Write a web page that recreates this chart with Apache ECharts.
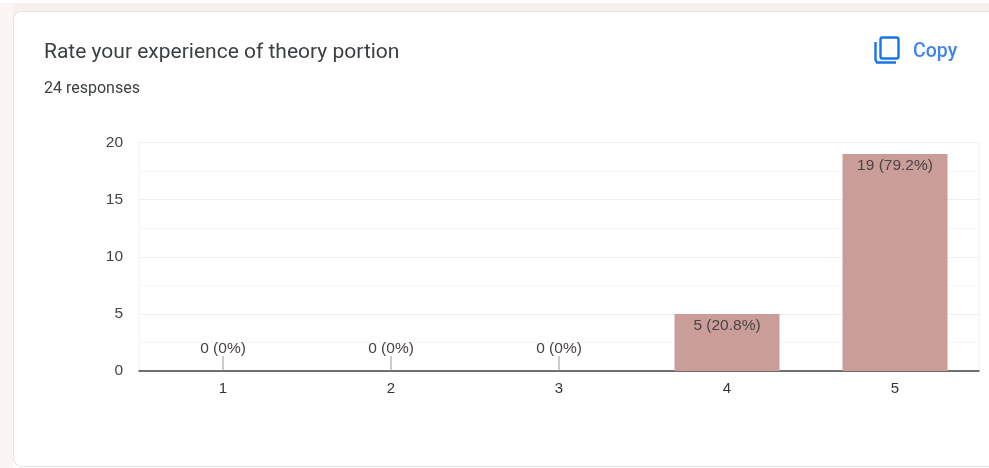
<!DOCTYPE html>
<html>
<head>
<meta charset="utf-8">
<style>
  html, body { margin: 0; padding: 0; background: #fff; }
  #chart { width: 989px; height: 468px; }
</style>
<script src="https://cdn.jsdelivr.net/npm/echarts@6/dist/echarts.min.js"></script>
</head>
<body>
<div id="chart"></div>
<script>
var categories = ['1', '2', '3', '4', '5'];
var counts = [0, 0, 0, 5, 19];
var percents = ['0%', '0%', '0%', '20.8%', '79.2%'];
var titleText = 'Rate your experience of theory portion';
var subtitleText = '24 responses';
var copyText = 'Copy';

var myChart = echarts.init(document.getElementById('chart'));

var option = {
    animation: false,
    backgroundColor: '#fff',
    grid: {show: true, borderColor: '#f0f0f0', borderWidth: 1, left: 139, right: 10, top: 142.5, bottom: 97},
    graphic: [
        // page strip and card
        {type: 'rect', z: -10, shape: {x: 0, y: 3, width: 989, height: 30}, style: {fill: '#f8efee'}},
        {type: 'rect', z: -10, shape: {x: 0, y: 3, width: 13, height: 465}, style: {fill: '#fbf6f5'}},
        {type: 'rect', z: -9, shape: {x: 13.5, y: 11.5, width: 1000, height: 455, r: 8},
            style: {fill: '#fff', stroke: '#e4e4e2', lineWidth: 1}},
        {type: 'text', z: 5, x: 44, y: 53, style: {text: titleText, font: '21px Roboto', fill: '#3c4043', textVerticalAlign: 'middle'}},
        {type: 'text', z: 5, x: 44, y: 89, style: {text: subtitleText, font: '16px Roboto', fill: '#3c4043', textVerticalAlign: 'middle'}},
        // copy icon
        {type: 'rect', z: 5, shape: {x: 880.5, y: 37.5, width: 18, height: 21, r: 2},
            style: {fill: 'none', stroke: '#1a73e8', lineWidth: 2.4}},
        {type: 'polyline', z: 5, shape: {points: [[875.5, 42], [875.5, 60], [877, 62.5], [896, 62.5]]},
            style: {fill: 'none', stroke: '#1a73e8', lineWidth: 2.4}},
        {type: 'text', z: 5, x: 913, y: 52, style: {text: copyText, font: '500 19.5px Roboto', fill: '#4285e8', textVerticalAlign: 'middle'}}
    ],
    xAxis: {
        type: 'category',
        data: categories,
        axisLine: {lineStyle: {color: '#444', width: 1.5}},
        axisTick: {show: false},
        axisLabel: {color: '#333', fontFamily: 'Liberation Sans', fontSize: 15, margin: 10}
    },
    yAxis: {
        type: 'value',
        min: 0,
        max: 20,
        interval: 5,
        axisLine: {show: false},
        axisTick: {show: false},
        axisLabel: {color: '#444', fontFamily: 'Liberation Sans', fontSize: 15.5, margin: 16, padding: [3, 0, 0, 0]},
        splitLine: {lineStyle: {color: '#efefef', width: 1}},
        minorTick: {show: false, splitNumber: 2},
        minorSplitLine: {show: true, lineStyle: {color: '#f6f6f6', width: 1}}
    },
    series: [
        {
            type: 'bar',
            data: counts,
            barWidth: 105,
            itemStyle: {color: '#cb9d99'},
            label: {
                show: true,
                position: 'insideTop',
                distance: 3,
                color: '#4a4443',
                fontFamily: 'Liberation Sans',
                fontSize: 15.5,
                formatter: function (p) {
                    return counts[p.dataIndex] + ' (' + percents[p.dataIndex] + ')';
                }
            },
            labelLayout: function (p) {
                return counts[p.dataIndex] === 0 ? {dy: -33} : {dy: 1};
            }
        },
        {
            // leader ticks over the empty bars
            type: 'custom',
            silent: true,
            data: counts,
            renderItem: function (params, api) {
                if (api.value(1) !== 0) return null;
                var pt = api.coord([api.value(0), 0]);
                return {
                    type: 'line',
                    shape: {x1: pt[0], y1: pt[1], x2: pt[0], y2: pt[1] - 15},
                    style: {stroke: '#999', lineWidth: 1}
                };
            },
            encode: {x: 0, y: 1}
        }
    ]
};

myChart.setOption(option);
</script>
</body>
</html>
